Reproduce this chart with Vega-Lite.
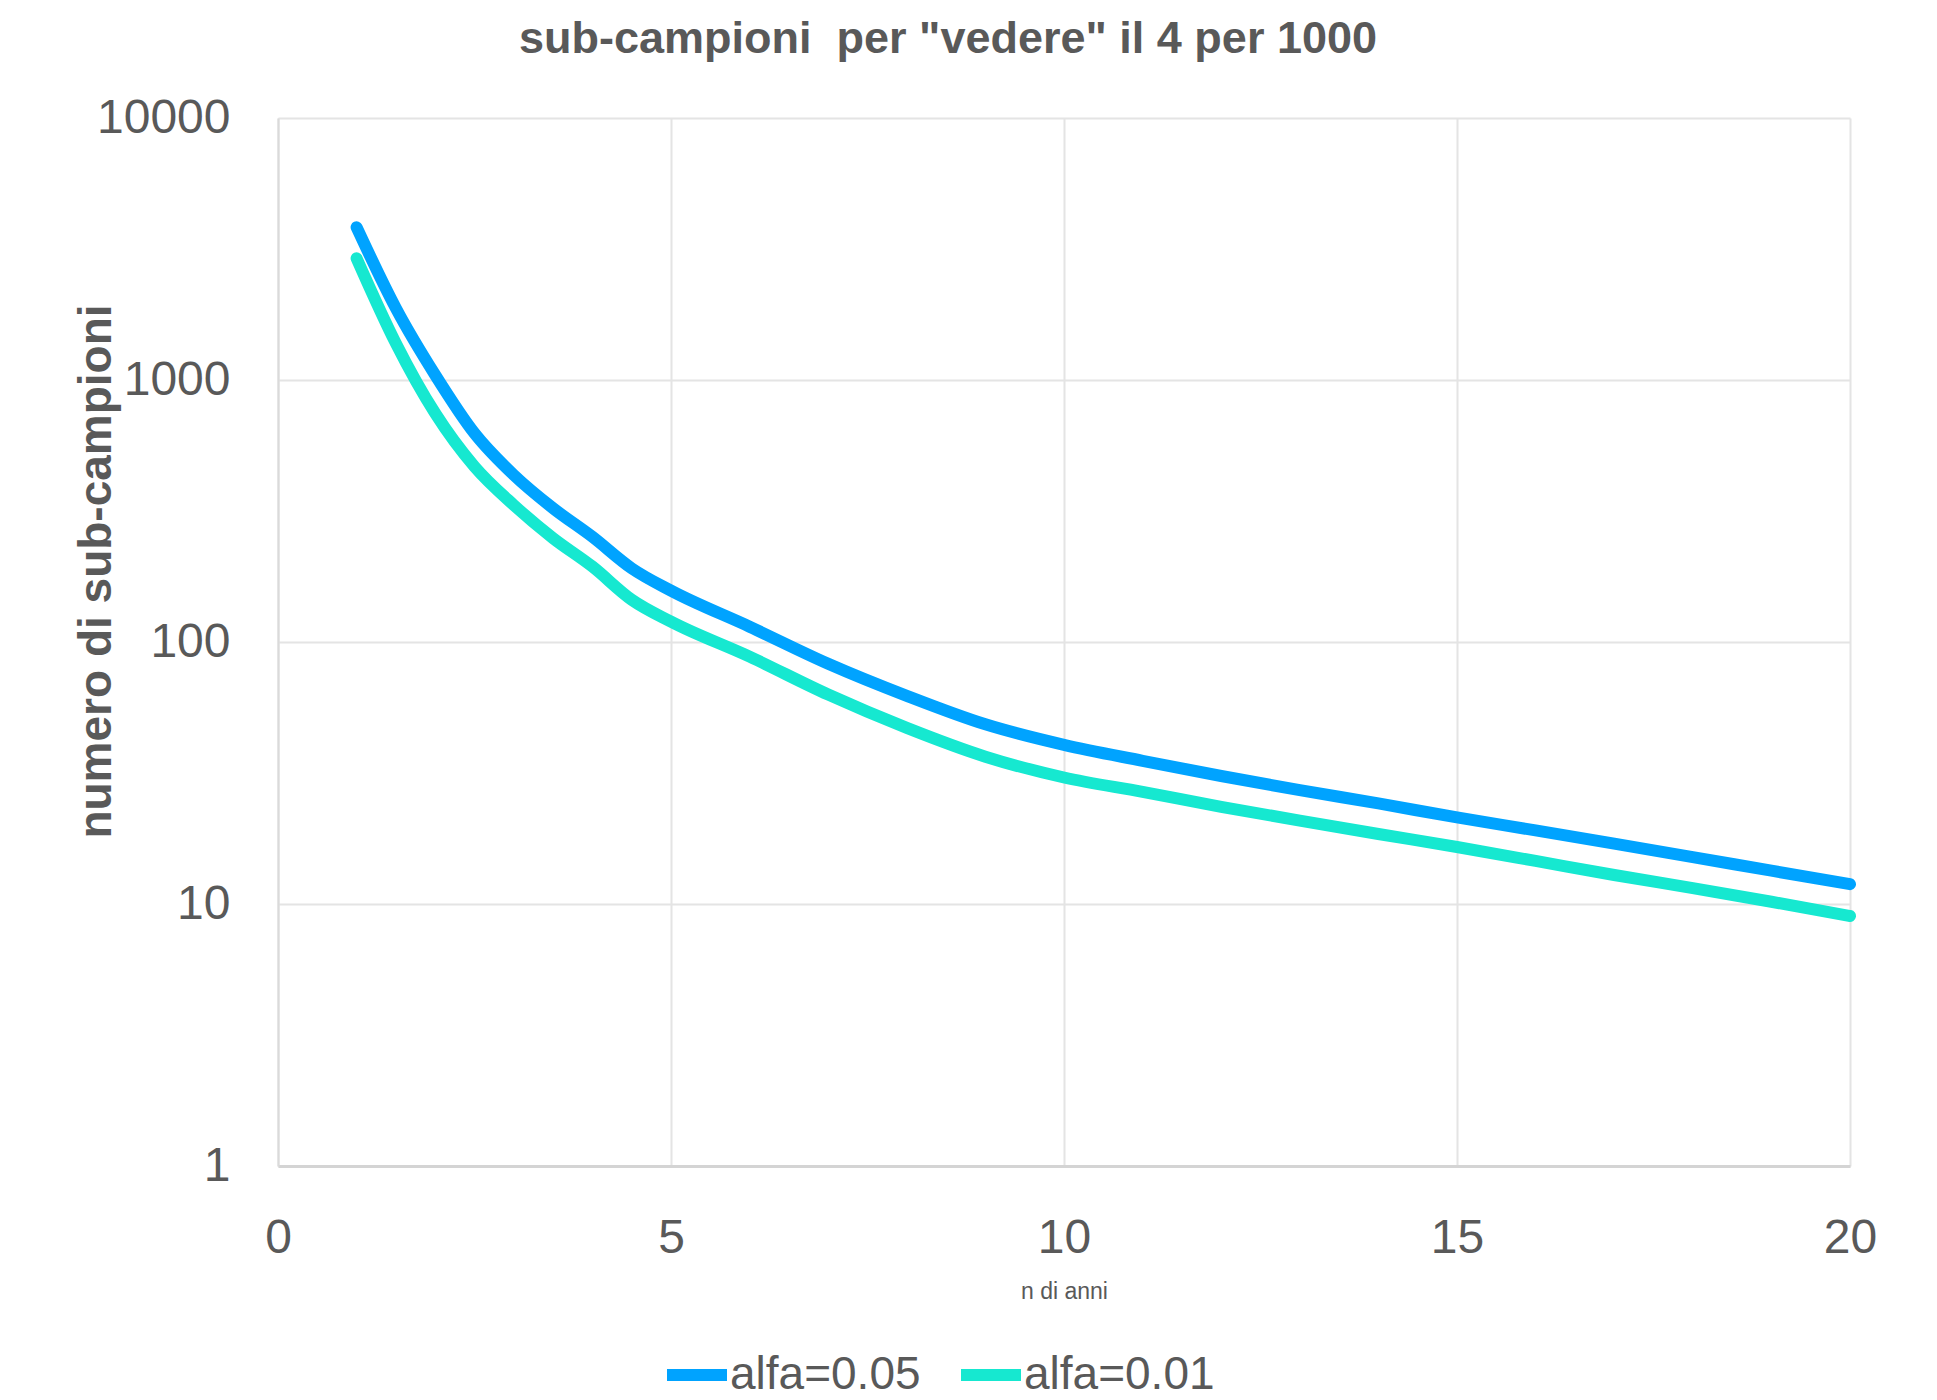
{
  "$schema": "https://vega.github.io/schema/vega-lite/v6.json",
  "width": 1572,
  "height": 1048,
  "autosize": {"type": "none"},
  "padding": {"left": 278, "top": 118, "right": 87, "bottom": 234},
  "background": "white",
  "config": {
    "view": {"stroke": null},
    "font": "Liberation Sans"
  },
  "title": {
    "text": "sub-campioni\u00a0 per \"vedere\" il 4 per 1000",
    "font": "Liberation Sans",
    "fontSize": 45,
    "fontWeight": "bold",
    "color": "#595959",
    "anchor": "middle",
    "frame": "group",
    "dx": -116,
    "offset": 32
  },
  "data": {
    "values": [
      {"x": 1, "n": 3828, "serie": "alfa=0.05"},
      {"x": 1.5, "n": 1879, "serie": "alfa=0.05"},
      {"x": 2, "n": 1045, "serie": "alfa=0.05"},
      {"x": 2.5, "n": 626, "serie": "alfa=0.05"},
      {"x": 3, "n": 434, "serie": "alfa=0.05"},
      {"x": 3.5, "n": 324, "serie": "alfa=0.05"},
      {"x": 4, "n": 252, "serie": "alfa=0.05"},
      {"x": 4.5, "n": 191, "serie": "alfa=0.05"},
      {"x": 5, "n": 157, "serie": "alfa=0.05"},
      {"x": 6, "n": 114.4, "serie": "alfa=0.05"},
      {"x": 7, "n": 82.6, "serie": "alfa=0.05"},
      {"x": 8, "n": 62.3, "serie": "alfa=0.05"},
      {"x": 9, "n": 48.5, "serie": "alfa=0.05"},
      {"x": 10, "n": 40.5, "serie": "alfa=0.05"},
      {"x": 11, "n": 35.2, "serie": "alfa=0.05"},
      {"x": 12, "n": 30.8, "serie": "alfa=0.05"},
      {"x": 13, "n": 27.2, "serie": "alfa=0.05"},
      {"x": 14, "n": 24.2, "serie": "alfa=0.05"},
      {"x": 15, "n": 21.4, "serie": "alfa=0.05"},
      {"x": 16, "n": 19.1, "serie": "alfa=0.05"},
      {"x": 17, "n": 17.0, "serie": "alfa=0.05"},
      {"x": 18, "n": 15.1, "serie": "alfa=0.05"},
      {"x": 19, "n": 13.4, "serie": "alfa=0.05"},
      {"x": 20, "n": 11.9, "serie": "alfa=0.05"},
      {"x": 1, "n": 2914, "serie": "alfa=0.01"},
      {"x": 1.5, "n": 1380, "serie": "alfa=0.01"},
      {"x": 2, "n": 746, "serie": "alfa=0.01"},
      {"x": 2.5, "n": 467, "serie": "alfa=0.01"},
      {"x": 3, "n": 333, "serie": "alfa=0.01"},
      {"x": 3.5, "n": 249, "serie": "alfa=0.01"},
      {"x": 4, "n": 194, "serie": "alfa=0.01"},
      {"x": 4.5, "n": 145, "serie": "alfa=0.01"},
      {"x": 5, "n": 119.6, "serie": "alfa=0.01"},
      {"x": 6, "n": 87.9, "serie": "alfa=0.01"},
      {"x": 7, "n": 63, "serie": "alfa=0.01"},
      {"x": 8, "n": 47, "serie": "alfa=0.01"},
      {"x": 9, "n": 36.5, "serie": "alfa=0.01"},
      {"x": 10, "n": 30.4, "serie": "alfa=0.01"},
      {"x": 11, "n": 26.8, "serie": "alfa=0.01"},
      {"x": 12, "n": 23.5, "serie": "alfa=0.01"},
      {"x": 13, "n": 20.8, "serie": "alfa=0.01"},
      {"x": 14, "n": 18.5, "serie": "alfa=0.01"},
      {"x": 15, "n": 16.5, "serie": "alfa=0.01"},
      {"x": 16, "n": 14.6, "serie": "alfa=0.01"},
      {"x": 17, "n": 12.9, "serie": "alfa=0.01"},
      {"x": 18, "n": 11.5, "serie": "alfa=0.01"},
      {"x": 19, "n": 10.2, "serie": "alfa=0.01"},
      {"x": 20, "n": 9.0, "serie": "alfa=0.01"}
    ]
  },
  "mark": {
    "type": "line",
    "interpolate": "monotone",
    "strokeWidth": 12,
    "strokeCap": "round",
    "strokeJoin": "round"
  },
  "encoding": {
    "x": {
      "field": "x",
      "type": "quantitative",
      "scale": {"domain": [0, 20], "nice": false, "zero": false},
      "axis": {
        "title": "n di anni",
        "values": [0, 5, 10, 15, 20],
        "format": "d",
        "labelFont": "Liberation Sans",
        "labelFontSize": 48,
        "labelColor": "#595959",
        "labelPadding": 48,
        "labelFlush": false,
        "labelOverlap": false,
        "ticks": false,
        "tickSize": 0,
        "domain": true,
        "domainColor": "#d4d4d4",
        "domainWidth": 3,
        "grid": true,
        "gridColor": "#e4e4e4",
        "gridWidth": 2,
        "titleFont": "Liberation Sans",
        "titleFontSize": 23,
        "titleFontWeight": "normal",
        "titleColor": "#595959",
        "titleX": 786,
        "titleY": 125,
        "titleBaseline": "middle",
        "titleAlign": "center"
      }
    },
    "y": {
      "field": "n",
      "type": "quantitative",
      "scale": {"type": "log", "domain": [1, 10000], "nice": false},
      "axis": {
        "title": "numero di sub-campioni",
        "values": [1, 10, 100, 1000, 10000],
        "format": "d",
        "labelFont": "Liberation Sans",
        "labelFontSize": 48,
        "labelColor": "#595959",
        "labelPadding": 48,
        "labelFlush": false,
        "labelOverlap": false,
        "labelBaseline": "middle",
        "ticks": false,
        "tickSize": 0,
        "domain": true,
        "domainColor": "#dadada",
        "domainWidth": 2,
        "grid": true,
        "gridColor": "#e4e4e4",
        "gridWidth": 2,
        "titleFont": "Liberation Sans",
        "titleFontSize": 46,
        "titleFontWeight": "bold",
        "titleColor": "#595959",
        "titleAngle": 270,
        "titleX": -168,
        "titleY": 453,
        "titleBaseline": "alphabetic",
        "titleAlign": "center"
      }
    },
    "color": {
      "field": "serie",
      "type": "nominal",
      "sort": ["alfa=0.05", "alfa=0.01"],
      "scale": {"domain": ["alfa=0.05", "alfa=0.01"], "range": ["#00A3FF", "#16E8D0"]},
      "legend": {
        "title": null,
        "orient": "none",
        "direction": "horizontal",
        "legendX": 383,
        "legendY": 1221,
        "symbolType": "stroke",
        "symbolSize": 3600,
        "symbolStrokeWidth": 12,
        "labelFont": "Liberation Sans",
        "labelFontSize": 46,
        "labelColor": "#595959",
        "labelOffset": -3,
        "columnPadding": 16,
        "padding": 0,
        "labelLimit": 400
      }
    }
  }
}
